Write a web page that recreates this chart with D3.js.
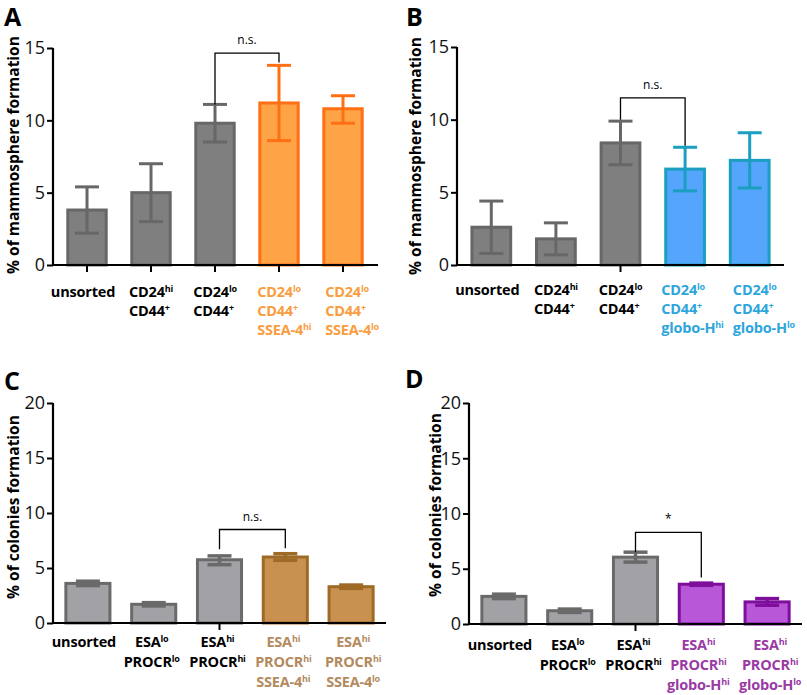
<!DOCTYPE html>
<html>
<head>
<meta charset="utf-8">
<script src="https://cdn.jsdelivr.net/npm/d3@7"></script>
<style>
  body { margin: 0; background: #fff; }
  svg { display: block; font-family: "Open Sans", sans-serif; }
</style>
</head>
<body>
<svg width="807" height="695"></svg>
<script>
// ---- data ----
const labelsA = [["unsorted"], ["CD24^hi", "CD44^+"], ["CD24^lo", "CD44^+"], ["CD24^lo", "CD44^+", "SSEA-4^hi"], ["CD24^lo", "CD44^+", "SSEA-4^lo"]];
const meanA = [3.8, 5.0, 9.8, 11.2, 10.8];
const lowA = [2.2, 3.0, 8.5, 8.6, 9.8];
const highA = [5.4, 7.0, 11.1, 13.8, 11.7];

const labelsB = [["unsorted"], ["CD24^hi", "CD44^+"], ["CD24^lo", "CD44^+"], ["CD24^lo", "CD44^+", "globo-H^hi"], ["CD24^lo", "CD44^+", "globo-H^lo"]];
const meanB = [2.6, 1.8, 8.4, 6.6, 7.2];
const lowB = [0.8, 0.7, 6.9, 5.1, 5.3];
const highB = [4.4, 2.9, 9.9, 8.1, 9.1];

const labelsC = [["unsorted"], ["ESA^lo", "PROCR^lo"], ["ESA^hi", "PROCR^hi"], ["ESA^hi", "PROCR^hi", "SSEA-4^hi"], ["ESA^hi", "PROCR^hi", "SSEA-4^lo"]];
const meanC = [3.6, 1.7, 5.75, 6.0, 3.3];
const lowC = [3.4, 1.55, 5.3, 5.7, 3.15];
const highC = [3.8, 1.85, 6.1, 6.3, 3.45];

const labelsD = [["unsorted"], ["ESA^lo", "PROCR^lo"], ["ESA^hi", "PROCR^hi"], ["ESA^hi", "PROCR^hi", "globo-H^hi"], ["ESA^hi", "PROCR^hi", "globo-H^lo"]];
const meanD = [2.5, 1.2, 6.05, 3.6, 2.0];
const lowD = [2.3, 1.05, 5.6, 3.5, 1.7];
const highD = [2.7, 1.35, 6.5, 3.7, 2.3];

const ticksAB = [0, 5, 10, 15];
const ticksCD = [0, 5, 10, 15, 20];

const svg = d3.select("svg");

function drawPanel(p) {
  const g = svg.append("g");
  const n = p.labels.length;
  const x = d3.scaleBand().domain(d3.range(n)).range(p.xr)
    .paddingInner(p.pad).paddingOuter(p.pad / 2);
  const y = d3.scaleLinear().domain([0, p.ymax]).range(p.yr);
  const cx = i => x(i) + x.bandwidth() / 2;
  const hl = i => i >= 3;

  // bars
  g.selectAll("rect.bar").data(p.mean).enter().append("rect")
    .attr("x", (d, i) => x(i))
    .attr("y", d => y(d))
    .attr("width", x.bandwidth())
    .attr("height", d => y(0) - y(d))
    .attr("fill", (d, i) => hl(i) ? p.hiFill : p.baseFill)
    .attr("stroke", (d, i) => hl(i) ? p.hiStroke : p.baseStroke)
    .attr("stroke-width", 3);

  // error bars
  const eb = g.selectAll("g.err").data(p.mean).enter().append("g")
    .attr("stroke", (d, i) => hl(i) ? p.hiStroke : p.baseStroke)
    .attr("stroke-width", p.errWidth);
  eb.append("line")
    .attr("x1", (d, i) => cx(i)).attr("x2", (d, i) => cx(i))
    .attr("y1", (d, i) => y(p.low[i])).attr("y2", (d, i) => y(p.high[i]));
  [p.low, p.high].forEach(arr => {
    eb.append("line")
      .attr("x1", (d, i) => cx(i) - p.cap).attr("x2", (d, i) => cx(i) + p.cap)
      .attr("y1", (d, i) => y(arr[i])).attr("y2", (d, i) => y(arr[i]));
  });

  // axes
  const yAxis = d3.axisLeft(y).tickValues(p.ticks).tickSize(6).tickPadding(2);
  const ya = g.append("g").attr("transform", `translate(${p.xr[0] - 2},0)`).call(yAxis);
  ya.select(".domain").attr("stroke-width", 2.2).attr("d", `M0,${y(0)}V${y(p.ymax)}`);
  ya.selectAll(".tick line").attr("stroke-width", 2);
  ya.selectAll(".tick text").attr("font-size", 18).attr("font-family", "Open Sans").attr("fill", "#111");

  g.append("line")
    .attr("x1", p.xr[0] - 3).attr("x2", p.xend)
    .attr("y1", y(0)).attr("y2", y(0))
    .attr("stroke", "#000").attr("stroke-width", 2.2);
  p.xticks.forEach(i => {
    g.append("line")
      .attr("x1", cx(i)).attr("x2", cx(i))
      .attr("y1", y(0)).attr("y2", y(0) + 7)
      .attr("stroke", "#000").attr("stroke-width", 2);
  });

  // category labels
  p.labels.forEach((lines, i) => {
    const tg = g.append("g").attr("fill", hl(i) ? p.hiText : "#000");
    const shift = p.shifts[i];
    const texts = lines.map((ln, k) => {
      const parts = ln.split("^");
      const t = tg.append("text")
        .attr("y", y(0) + p.labelOffset + k * p.lineGap)
        .attr("font-size", 14.5).attr("font-weight", 700)
        .attr("letter-spacing", -0.2);
      t.append("tspan").text(parts[0]);
      if (parts[1]) t.append("tspan").attr("dy", -5).attr("font-size", 9).text(parts[1]);
      return t;
    });
    if (p.leftAlign) {
      // block is placed by its first line, the rest hangs from the same left edge
      const w = texts[0].node().getComputedTextLength();
      texts.forEach(t => t.attr("x", cx(i) - w / 2 + shift));
    } else {
      texts.forEach(t => t.attr("x", cx(i) + shift).attr("text-anchor", "middle"));
    }
  });

  // y label
  g.append("text")
    .attr("transform", `translate(${p.ylabX},${p.ylabY}) rotate(-90)`)
    .attr("text-anchor", "middle")
    .attr("font-size", 15.5).attr("font-weight", 700)
    .text(p.ylabel);

  // panel letter
  g.append("text").attr("x", p.letterX).attr("y", p.letterY)
    .attr("font-size", 25).attr("font-weight", 700).text(p.letter);

  // significance bracket
  const b = p.bracket;
  g.append("path")
    .attr("d", `M${cx(b.from)},${y(b.leftEnd)}V${y(b.top)}H${cx(b.to)}V${y(b.rightEnd)}`)
    .attr("fill", "none").attr("stroke", "#000").attr("stroke-width", 1.3);
  g.append("text")
    .attr("x", (cx(b.from) + cx(b.to)) / 2).attr("y", y(b.top) - 9)
    .attr("text-anchor", "middle").attr("font-size", 12).text(b.text);
}

drawPanel({
  letter: "A", letterX: 4, letterY: 26,
  labels: labelsA, mean: meanA, low: lowA, high: highA,
  xr: [55, 375], xend: 378, pad: 0.4, cap: 12, errWidth: 3,
  yr: [265, 48], ymax: 15, ticks: ticksAB, xticks: [0, 1, 2, 3, 4],
  baseFill: "#7f7f7f", baseStroke: "#676767",
  hiFill: "#ffa347", hiStroke: "#ff7014", hiText: "#f99d3e",
  labelOffset: 32, lineGap: 19, leftAlign: true, shifts: [-4, 0, 0, 0, 4],
  ylabel: "% of mammosphere formation", ylabX: 19, ylabY: 155,
  bracket: { from: 2, to: 3, top: 14.65, leftEnd: 11.1, rightEnd: 14.0, text: "n.s." }
});

drawPanel({
  letter: "B", letterX: 406, letterY: 26,
  labels: labelsB, mean: meanB, low: lowB, high: highB,
  xr: [459, 782], xend: 784, pad: 0.4, cap: 12, errWidth: 3,
  yr: [265, 47], ymax: 15, ticks: ticksAB, xticks: [2],
  baseFill: "#7f7f7f", baseStroke: "#676767",
  hiFill: "#56a5fc", hiStroke: "#1a9fc0", hiText: "#2ea6dc",
  labelOffset: 30, lineGap: 19, leftAlign: true, shifts: [-4, 0, 0, -2, 5],
  ylabel: "% of mammosphere formation", ylabX: 421, ylabY: 156,
  bracket: { from: 2, to: 3, top: 11.5, leftEnd: 10.0, rightEnd: 8.2, text: "n.s." }
});

drawPanel({
  letter: "C", letterX: 4, letterY: 390,
  labels: labelsC, mean: meanC, low: lowC, high: highC,
  xr: [55, 384], xend: 386, pad: 0.33, cap: 12, errWidth: 3.5,
  yr: [623, 403], ymax: 20, ticks: ticksCD, xticks: [2],
  baseFill: "#a2a2a6", baseStroke: "#6a6a6a",
  hiFill: "#c8914f", hiStroke: "#9e6a26", hiText: "#b38a5e",
  labelOffset: 24, lineGap: 20, leftAlign: false, shifts: [-4, -2, -2, -2, 2],
  ylabel: "% of colonies formation", ylabX: 19, ylabY: 507,
  bracket: { from: 2, to: 3, top: 8.5, leftEnd: 6.7, rightEnd: 6.8, text: "n.s." }
});

drawPanel({
  letter: "D", letterX: 405, letterY: 388,
  labels: labelsD, mean: meanD, low: lowD, high: highD,
  xr: [471, 800], xend: 802, pad: 0.33, cap: 12, errWidth: 3.5,
  yr: [624, 403], ymax: 20, ticks: ticksCD, xticks: [2],
  baseFill: "#a2a2a6", baseStroke: "#6a6a6a",
  hiFill: "#b957d9", hiStroke: "#7d0f9c", hiText: "#9a3aa5",
  labelOffset: 26, lineGap: 20, leftAlign: false, shifts: [-4, -2, -2, -3, 3],
  ylabel: "% of colonies formation", ylabX: 441, ylabY: 505,
  bracket: { from: 2, to: 3, top: 8.3, leftEnd: 6.5, rightEnd: 4.2, text: "*" }
});
</script>
</body>
</html>
